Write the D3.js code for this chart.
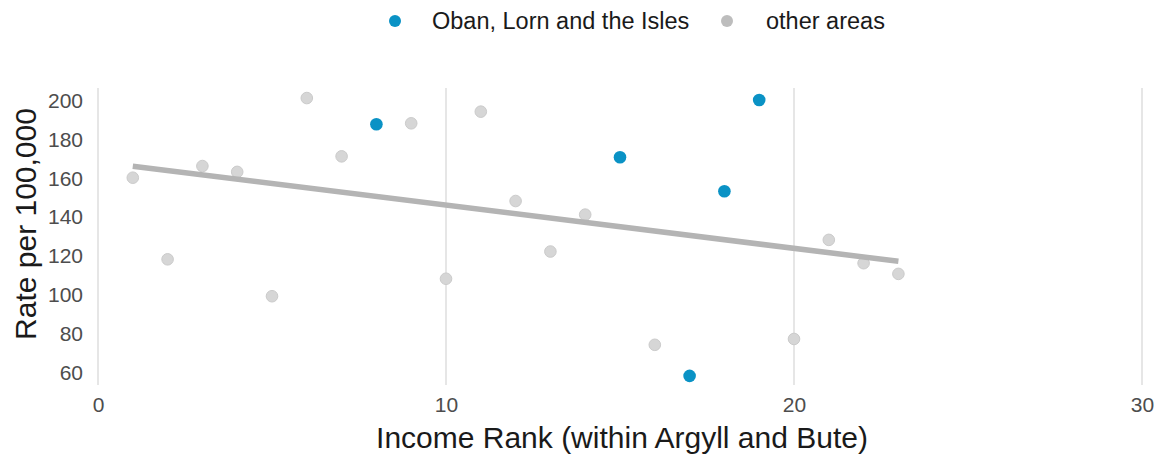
<!DOCTYPE html>
<html>
<head>
<meta charset="utf-8">
<script src="https://cdn.jsdelivr.net/npm/d3@7"></script>
<style>
  body { margin: 0; background: #fff; }
  svg { display: block; font-family: "Liberation Sans", Arial, sans-serif; }
</style>
</head>
<body>
<svg id="chart" width="1162" height="455"></svg>
<script>
// Data
const incomeRank = [1,2,3,4,5,6,7,8,9,10,11,12,13,14,15,16,17,18,19,20,21,22,23];
const rate = [160,118,166,163,99,201,171,187.5,188,108,194,148,122,141,170.5,74,58,153,200,77,128,116,110.5];
const isOban = [0,0,0,0,0,0,0,1,0,0,0,0,0,0,1,0,1,1,1,0,0,0,0];
const xTicks = [0,10,20,30];
const yTicks = [60,80,100,120,140,160,180,200];
const legendLabels = ["Oban, Lorn and the Isles", "other areas"];
const xTitle = "Income Rank (within Argyll and Bute)";
const yTitle = "Rate per 100,000";

const BLUE = "#0a92c5", GREY = "#d6d6d6", LINE = "#b4b4b4";

const svg = d3.select("#chart");
const x = d3.scaleLinear().domain([0, 30]).range([98, 1142]);
const y = d3.scaleLinear().domain([60, 200]).range([372, 100]);
const panelTop = 88, panelBottom = 385;

// vertical grid lines
svg.append("g").selectAll("line").data(xTicks).join("line")
  .attr("x1", d => x(d)).attr("x2", d => x(d))
  .attr("y1", panelTop).attr("y2", panelBottom)
  .attr("stroke", "#e6e6e6").attr("stroke-width", 2);

// axes
const xAxis = svg.append("g").attr("transform", `translate(0,${panelBottom + 8})`)
  .call(d3.axisBottom(x).tickValues(xTicks).tickSize(0).tickPadding(4));
xAxis.select(".domain").remove();
xAxis.selectAll("text").attr("font-size", 21).attr("fill", "#4d4d4d")
  .attr("font-family", "Liberation Sans, Arial, sans-serif");

const yAxis = svg.append("g").attr("transform", `translate(83,0)`)
  .call(d3.axisLeft(y).tickValues(yTicks).tickSize(0).tickPadding(0));
yAxis.select(".domain").remove();
yAxis.selectAll("text").attr("font-size", 21).attr("fill", "#4d4d4d").attr("dy", "0.35em")
  .attr("font-family", "Liberation Sans, Arial, sans-serif");

// points
const data = incomeRank.map((r, i) => ({x: r, y: rate[i], oban: isOban[i]}));
svg.append("g").selectAll("circle").data(data.filter(d => !d.oban)).join("circle")
  .attr("cx", d => x(d.x)).attr("cy", d => y(d.y)).attr("r", 5.8)
  .attr("fill", GREY).attr("stroke", "#cbcbcb").attr("stroke-width", 1);

// regression line (least squares)
const mx = d3.mean(incomeRank), my = d3.mean(rate);
const sxy = d3.sum(incomeRank, (v, i) => (v - mx) * (rate[i] - my));
const sxx = d3.sum(incomeRank, v => (v - mx) ** 2);
const slope = sxy / sxx, icpt = my - slope * mx;
const [x0, x1] = d3.extent(incomeRank);
svg.append("line")
  .attr("x1", x(x0)).attr("y1", y(icpt + slope * x0))
  .attr("x2", x(x1)).attr("y2", y(icpt + slope * x1))
  .attr("stroke", LINE).attr("stroke-width", 5.5);

svg.append("g").selectAll("circle").data(data.filter(d => d.oban)).join("circle")
  .attr("cx", d => x(d.x)).attr("cy", d => y(d.y)).attr("r", 6.3)
  .attr("fill", BLUE);

// axis titles
svg.append("text").attr("x", 622).attr("y", 448).attr("text-anchor", "middle")
  .attr("font-size", 30).attr("fill", "#1a1a1a").text(xTitle);
svg.append("text").attr("transform", "translate(36,224) rotate(-90)")
  .attr("text-anchor", "middle").attr("font-size", 30).attr("fill", "#1a1a1a").text(yTitle);

// legend
const leg = svg.append("g");
leg.append("circle").attr("cx", 395).attr("cy", 21).attr("r", 6).attr("fill", BLUE);
leg.append("text").attr("x", 432).attr("y", 21).attr("dy", "0.35em").attr("font-size", 23.5)
  .attr("fill", "#1a1a1a").text(legendLabels[0]);
leg.append("circle").attr("cx", 727).attr("cy", 21).attr("r", 6).attr("fill", "#bdbdbd");
leg.append("text").attr("x", 766).attr("y", 21).attr("dy", "0.35em").attr("font-size", 23.5)
  .attr("fill", "#1a1a1a").text(legendLabels[1]);
</script>
</body>
</html>
